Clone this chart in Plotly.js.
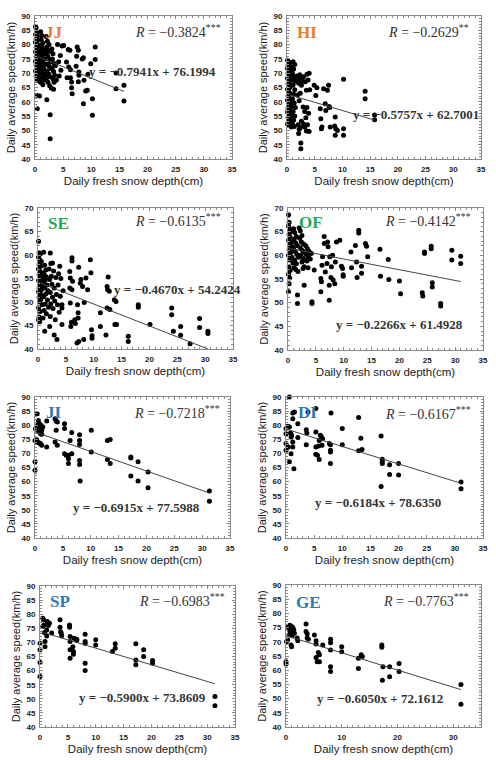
<!DOCTYPE html>
<html><head><meta charset="utf-8">
<script src="https://cdn.plot.ly/plotly-3.0.1.min.js"></script>
<style>html,body{margin:0;padding:0;background:#fff}</style>
</head><body><div id="chart" style="width:496px;height:760px"></div>
<script>
// ---------- data ----------
const regions = ["JJ","HI","SE","OF","JI","DI","SP","GE"];
const rValues = [-0.3824,-0.2629,-0.6135,-0.4142,-0.7218,-0.6167,-0.6983,-0.7763];
const rStars = ["***","**","***","***","***","***","***","***"];
const slopes = [-0.7941,-0.5757,-0.4670,-0.2266,-0.6915,-0.6184,-0.5900,-0.6050];
const intercepts = [76.1994,62.7001,54.2424,61.4928,77.5988,78.6350,73.8609,72.1612];
const xTitle = "Daily fresh snow depth(cm)";
const yTitle = "Daily average speed(km/h)";

const jjPoints = [[0.1,86.3],[0.2,85.8],[0.3,84.2],[0.1,83.5],[0.4,83.0],[0.2,82.0],[0.5,81.5],[0.1,80.8],[0.3,80.2],[0.6,79.6],[0.2,79.0],[0.4,78.4],[0.7,78.0],[0.1,77.5],[0.3,77.0],[0.5,76.5],[0.8,76.2],[0.2,75.8],[0.4,75.2],[0.6,74.8],[0.1,74.2],[0.3,73.6],[0.9,73.2],[0.2,72.8],[0.5,72.0],[0.7,71.4],[0.1,70.8],[0.4,70.2],[0.8,69.6],[0.2,69.0],[0.6,68.2],[0.3,67.5],[0.9,67.0],[0.3,62.3],[0.8,62.0],[0.4,57.6],
[1.0,84.5],[1.2,83.2],[1.1,81.8],[1.4,80.6],[1.0,79.8],[1.3,79.0],[1.6,78.2],[1.1,77.4],[1.5,76.6],[1.2,75.6],[1.7,75.0],[1.0,74.4],[1.4,73.8],[1.8,73.0],[1.2,72.2],[1.6,71.4],[1.1,70.6],[1.5,69.8],[1.9,69.2],[1.3,68.4],[1.7,67.6],[1.0,66.8],[1.4,66.0],
[2.0,82.8],[2.2,81.2],[2.5,80.0],[2.1,79.2],[2.4,78.0],[2.7,77.6],[2.0,76.8],[2.3,75.8],[2.6,74.6],[2.9,74.0],[2.2,73.2],[2.5,72.4],[2.8,71.6],[2.1,70.8],[2.4,69.8],[2.7,68.8],[2.0,67.8],[2.3,66.8],[2.6,65.6],[2.9,64.8],[2.1,60.7],[2.7,55.5],[2.7,47.1],
[3.0,78.5],[3.2,76.8],[3.1,75.0],[3.4,73.4],[3.0,71.8],[3.3,70.6],[3.5,69.3],[3.2,68.0],[3.4,66.8],[3.3,64.4],[3.6,72.6],[3.8,67.6],
[4.0,80.0],[4.5,76.2],[4.8,79.5],[5.1,79.7],[4.2,74.0],[4.6,71.0],[4.3,69.0],[5.6,73.9],[5.9,78.3],[6.2,78.0],[6.0,72.2],[6.3,71.2],[5.7,68.4],[6.3,68.4],[6.5,66.9],[6.5,64.9],[6.6,62.8],[7.5,79.2],[7.7,78.0],[7.4,75.9],[7.3,72.4],[7.8,70.4],[7.8,69.3],[7.7,67.0],[8.4,75.0],[8.6,75.4],[8.7,67.5],[8.6,59.3],[9.0,63.8],[9.3,64.0],[9.4,69.6],[9.9,73.3],[10.2,61.1],[10.2,55.3],[10.7,79.2],[10.7,74.8],[14.4,70.1],[14.4,64.6],[15.8,65.8],[15.8,60.3]];

const hiPoints = [[0.1,74.5],[0.3,74.0],[0.5,73.5],[0.2,72.8],[0.7,72.2],[0.1,71.6],[0.4,71.0],[0.9,70.5],[0.2,70.0],[0.6,69.4],[0.3,68.8],[0.1,68.2],[0.8,67.7],[0.4,67.0],[0.2,66.3],[1.0,65.8],[0.5,65.0],[0.1,64.4],[0.3,63.6],[0.7,62.8],[0.2,62.0],[0.4,61.2],[0.1,60.5],[0.6,59.8],[0.3,59.0],[0.8,58.4],[0.2,57.8],[0.5,57.0],[0.1,56.4],[0.4,55.8],[0.7,55.2],[0.2,54.6],[0.9,54.0],[0.3,53.4],[0.6,52.8],[0.1,52.2],[0.4,51.6],[0.8,51.2],
[1.1,74.0],[1.4,73.0],[1.2,71.5],[1.0,69.8],[1.3,68.6],[1.5,67.2],[1.1,66.0],[1.4,64.2],[1.2,62.6],[1.0,61.0],[1.3,59.6],[1.5,58.0],[1.1,56.6],[1.4,55.0],[1.2,53.6],[1.0,52.4],[1.3,51.4],
[1.8,69.0],[2.0,68.0],[2.3,69.5],[2.1,66.5],[2.5,68.4],[2.8,67.2],[2.6,65.8],[3.0,68.8],[3.3,67.0],[3.6,69.6],[4.0,70.0],[3.8,67.6],[4.1,64.2],[3.5,64.0],[2.4,63.0],[1.9,62.4],[2.2,60.4],[2.9,58.2],[3.2,56.6],[3.6,58.0],[3.9,56.0],[3.4,54.4],[2.6,53.2],[2.0,52.0],[2.4,51.0],[3.0,52.2],[3.7,52.0],[3.5,49.8],[2.1,48.9],[2.2,50.4],[2.5,45.6],[2.5,43.6],[3.2,51.2],[4.0,49.6],
[4.9,65.8],[5.4,64.9],[5.2,62.2],[6.0,57.6],[6.1,54.1],[6.3,51.2],[6.2,50.6],[6.6,64.6],[6.9,59.3],[7.0,57.0],[7.3,64.0],[7.5,65.8],[7.6,58.4],[7.7,58.0],[7.8,51.2],[8.7,54.7],[8.8,50.6],[8.7,48.3],[9.1,50.0],[8.6,51.5],[10.2,67.9],[10.2,50.6],[10.2,48.3],[14.1,63.7],[14.1,61.1],[15.8,55.4],[15.8,53.7]];

const sePoints = [[0.1,62.9],[0.2,60.5],[0.4,60.2],[0.1,59.5],[0.3,59.0],[0.6,58.6],[0.2,58.0],[0.5,57.6],[0.1,57.0],[0.3,56.6],[0.7,56.2],[0.2,55.8],[0.4,55.4],[0.8,55.0],[0.1,54.6],[0.5,54.2],[0.3,53.8],[0.9,53.4],[0.2,53.0],[0.6,52.6],[0.1,52.2],[0.4,51.8],[0.7,51.4],[0.2,51.0],[0.5,50.6],[0.3,50.0],[0.8,49.4],[0.1,48.8],[0.4,48.0],[0.2,46.8],[0.1,46.2],[0.3,45.8],
[1.0,60.6],[1.2,57.8],[1.4,56.8],[1.1,55.9],[1.5,55.3],[1.3,54.7],[1.0,54.1],[1.6,53.6],[1.2,53.0],[1.8,52.4],[1.4,51.7],[1.0,51.1],[1.7,50.4],[1.3,49.6],[1.9,48.9],[1.1,48.2],[1.5,47.5],[0.9,46.6],[1.2,43.8],
[2.2,60.4],[2.3,58.2],[2.6,58.3],[2.0,57.0],[2.4,55.5],[2.8,56.6],[2.1,54.8],[2.5,53.8],[2.9,53.0],[2.2,52.0],[2.6,51.0],[3.0,50.2],[2.3,49.6],[2.7,48.6],[2.2,46.9],[2.1,44.8],[2.9,43.0],[3.4,42.0],[3.1,46.2],[3.5,49.4],[3.3,51.6],[3.6,53.6],[3.2,55.2],[3.9,57.6],[3.7,56.0],[4.1,55.0],[4.3,45.2],[4.3,48.7],[4.3,49.4],[4.0,51.2],[4.5,52.4],[3.8,47.8],
[5.8,49.8],[5.9,44.8],[6.0,45.7],[6.1,58.7],[6.1,59.4],[5.7,56.5],[5.8,55.1],[5.7,53.0],[6.1,52.6],[6.2,54.4],[6.6,46.2],[6.7,45.4],[7.0,41.3],[7.3,41.6],[7.2,47.7],[7.2,46.6],[7.1,49.4],[7.3,57.4],[7.6,54.0],[7.7,54.8],[8.0,53.3],[8.2,42.0],[8.3,49.9],[8.6,55.1],[8.9,52.6],[9.4,59.0],[9.5,56.2],[9.6,44.1],[9.7,42.8],[9.7,42.3],[11.2,44.8],[11.2,47.7],[12.2,43.0],[12.4,48.7],[12.4,53.3],[12.5,52.6],[12.6,55.3],[12.8,52.3],[12.9,48.4],[13.7,50.5],[14.0,50.1],[13.8,45.2],[14.1,45.2],[16.2,42.7],[16.2,41.6],[18.0,49.4],[18.0,48.9],[20.1,45.2],[24.0,48.7],[24.0,47.3],[24.3,43.8],[25.6,44.8],[25.6,42.9],[27.3,41.1],[29.0,46.5],[29.0,44.6],[30.5,43.8],[30.5,43.3]];

const ofPoints = [[0.1,68.6],[0.2,67.0],[0.1,66.2],[0.3,65.6],[0.5,65.0],[0.2,64.4],[0.4,63.8],[0.1,63.2],[0.6,62.8],[0.3,62.2],[0.8,61.8],[0.2,61.2],[0.5,60.6],[0.1,60.0],[0.7,59.6],[0.3,59.0],[0.9,58.4],[0.2,57.6],[0.4,56.8],[0.1,56.0],[0.3,55.2],[0.2,54.0],[0.1,52.3],
[1.0,65.6],[1.2,64.8],[1.5,64.0],[1.1,63.4],[1.4,62.6],[1.7,62.0],[1.0,61.4],[1.3,60.8],[1.6,60.2],[1.9,59.6],[1.2,59.0],[1.5,58.2],[1.1,57.4],[1.8,56.6],[1.4,57.0],[1.7,51.6],[1.7,49.8],
[2.0,65.8],[2.2,65.2],[2.5,64.2],[2.1,63.6],[2.4,62.8],[2.8,62.4],[2.2,61.6],[2.6,61.0],[3.0,60.6],[2.3,60.0],[2.7,59.4],[3.1,59.0],[2.5,58.6],[2.9,57.6],[2.7,57.2],[2.9,53.7],[3.2,62.0],[3.5,61.4],[3.3,60.2],[3.7,59.6],[3.4,58.8],[3.8,60.8],[4.0,59.2],[4.2,60.4],[4.3,50.2],[4.3,49.8],[4.7,56.9],[3.6,57.4],
[5.9,52.3],[5.9,55.1],[6.0,54.4],[6.1,57.9],[6.2,59.7],[6.5,62.5],[6.5,64.0],[6.7,56.5],[7.0,58.3],[7.1,62.8],[7.2,61.8],[7.4,50.5],[7.4,53.7],[7.5,59.7],[7.7,55.3],[7.8,57.6],[8.0,60.0],[8.1,54.8],[8.4,54.0],[8.5,58.6],[8.7,62.8],[9.3,63.2],[9.6,57.7],[9.8,57.2],[9.9,55.9],[9.9,55.6],[11.4,57.4],[11.3,60.7],[12.1,62.1],[12.3,58.6],[12.4,55.3],[12.7,65.3],[12.7,64.7],[13.2,56.2],[13.2,57.7],[13.9,62.5],[14.1,61.9],[14.3,59.7],[16.5,61.3],[16.6,55.6],[18.0,59.1],[18.1,54.9],[20.0,54.6],[20.2,51.9],[24.1,52.1],[24.2,51.4],[24.5,60.7],[24.5,60.4],[25.7,61.9],[25.7,61.4],[25.9,54.2],[25.9,53.3],[27.4,49.8],[27.4,49.3],[29.4,61.1],[29.4,59.0],[31.0,59.8],[31.0,58.3]];

const jiPoints = [[0.0,74.6],[0.0,67.0],[0.0,64.0],[0.1,78.7],[0.2,78.9],[0.3,74.8],[0.4,74.0],[0.4,84.1],[0.5,80.2],[0.6,81.7],[0.6,77.8],[0.7,73.8],[0.8,80.5],[0.8,78.2],[0.9,73.5],[0.9,79.8],[1.0,77.0],[1.0,73.4],[1.1,80.0],[1.2,72.9],[1.2,78.2],[1.2,76.8],[1.4,79.4],[2.1,81.5],[2.1,72.3],[3.6,82.3],[3.8,81.5],[4.0,81.1],[3.8,78.2],[3.6,74.0],[4.0,72.9],[5.3,80.5],[5.3,78.8],[5.3,69.9],[5.6,69.3],[6.0,69.3],[6.0,68.1],[6.0,66.4],[6.3,74.6],[6.6,77.4],[6.6,69.9],[8.0,76.6],[8.0,74.6],[8.0,73.2],[8.0,67.5],[8.0,66.1],[8.1,60.2],[10.1,78.2],[10.1,70.5],[13.0,74.6],[13.5,74.9],[13.0,67.8],[13.5,66.4],[17.2,68.7],[17.2,68.4],[17.2,62.0],[18.5,67.0],[18.5,60.2],[20.3,63.4],[20.3,57.8],[31.3,56.7],[31.3,53.0]];

const diPoints = [[0.6,90.0],[0.0,78.8],[0.0,77.0],[0.0,73.5],[0.0,71.1],[0.4,72.3],[0.6,67.0],[0.3,79.6],[0.6,79.4],[0.8,77.2],[0.9,75.8],[1.0,76.4],[0.9,69.9],[1.2,74.0],[1.2,72.3],[1.4,64.6],[1.2,82.3],[1.2,84.3],[1.5,84.7],[2.1,80.5],[2.1,75.6],[3.6,78.4],[3.7,77.2],[3.6,73.1],[3.9,84.7],[5.3,85.9],[5.3,77.6],[5.3,72.3],[5.3,69.7],[5.6,69.3],[5.8,72.6],[5.9,67.8],[5.9,74.6],[6.1,76.4],[6.3,75.8],[6.4,72.9],[6.5,75.2],[7.7,73.5],[7.9,73.1],[7.9,71.1],[7.9,70.5],[7.9,66.4],[8.0,84.3],[10.0,78.8],[10.0,73.1],[12.9,82.7],[12.9,70.9],[13.3,75.4],[13.5,71.4],[16.9,76.2],[16.9,58.3],[17.1,67.9],[17.1,67.0],[17.1,66.4],[18.4,66.0],[18.4,62.5],[20.0,66.4],[20.0,62.3],[31.1,59.9],[31.1,57.5]];

const spPoints = [[0.0,57.9],[0.0,62.9],[0.0,67.4],[0.0,69.7],[0.5,78.6],[0.6,78.0],[0.7,76.2],[0.5,75.6],[0.8,73.5],[0.9,70.3],[0.9,68.5],[1.2,72.3],[1.2,74.4],[1.3,77.4],[1.5,76.0],[1.7,76.8],[2.1,73.3],[3.6,78.0],[3.6,75.4],[3.7,73.8],[3.8,73.3],[3.9,72.4],[5.3,76.2],[5.3,75.4],[5.4,72.1],[5.4,70.3],[5.4,67.4],[5.4,64.4],[5.9,68.5],[6.0,66.8],[6.0,65.8],[6.1,71.5],[6.6,71.1],[6.6,70.7],[8.1,72.9],[8.1,70.3],[8.1,69.7],[8.1,62.6],[8.1,60.0],[10.0,70.9],[10.0,69.1],[13.0,66.8],[13.5,69.5],[13.5,67.9],[17.2,69.5],[17.2,63.8],[17.2,62.1],[18.6,67.4],[18.6,65.0],[20.2,63.6],[20.2,62.6],[31.4,50.8],[31.4,47.5]];

const gePoints = [[0.0,63.0],[0.0,62.2],[0.1,70.1],[0.3,70.7],[0.4,75.1],[0.6,74.2],[0.8,73.0],[0.9,68.9],[1.0,68.3],[1.1,72.1],[1.2,75.1],[1.4,74.2],[1.5,73.0],[0.5,75.6],[0.7,75.8],[1.0,75.4],[1.2,73.8],[0.6,72.6],[2.0,71.3],[2.1,70.4],[3.6,76.3],[3.6,73.6],[3.8,72.8],[3.8,71.3],[4.0,70.9],[5.1,72.4],[5.4,70.4],[5.4,69.2],[5.4,64.5],[5.6,63.0],[5.8,66.2],[6.0,65.4],[6.0,63.0],[6.6,68.9],[8.0,70.9],[8.0,69.7],[8.0,67.1],[8.0,61.2],[8.0,59.5],[10.0,68.3],[10.0,66.5],[13.0,64.2],[13.0,60.6],[13.5,65.4],[13.7,64.8],[17.2,68.9],[17.2,68.1],[17.4,61.2],[17.3,56.5],[18.6,61.2],[18.6,57.7],[20.3,62.4],[20.3,59.5],[31.4,55.0],[31.4,48.0]];

const allPoints = [jjPoints,hiPoints,sePoints,ofPoints,jiPoints,diPoints,spPoints,gePoints];
const yRanges = [[40,90],[40,90],[40,70],[40,70],[40,90],[40,90],[40,90],[40,90]];
const xTickSteps = [5,5,5,5,5,5,5,10];

// ---------- layout / style ----------
const W = 496, H = 760;
const boxes = [[35,16,232,159],[287,16,481,159],[38,208,233,349],[288,208,483,350],[35,397,230,538],[286,397,483,538],[40,586,235,727],[286,585,481,727]];
const labelColors = ["#E57B34","#E57B34","#22A85A","#22A85A","#2E78B8","#2E78B8","#2E78B8","#2E78B8"];
const labelPos = [[43,33],[295,33],[46,223],[297,222],[44,412],[296,412],[48,601],[294,602]];
const rPos = [[223,31],[471,31],[223,220],[473,220],[222,412],[473,413],[227,600],[471,600]];
const eqPos = [[87,72],[351,115],[112,289],[334,324],[71,507],[313,502],[77,697],[315,698]];

const serif = "Liberation Serif, DejaVu Serif, serif";
const sans = "Liberation Sans, Arial, sans-serif";

const traces = [];
const layout = {
  width: W, height: H, margin: {l:0,r:0,t:0,b:0},
  paper_bgcolor: "#fff", plot_bgcolor: "#fff", showlegend: false,
  annotations: []
};
const fmt = v => (v < 0 ? "\u2212" : "") + Math.abs(v).toFixed(4);

for (let i = 0; i < 8; i++) {
  const s = i === 0 ? "" : String(i + 1);
  const [l, t, r, b] = boxes[i];
  const pts = allPoints[i];
  const xs = pts.map(p => p[0]), ys = pts.map(p => p[1]);
  const xmax = Math.max(...xs), xmin = Math.min(...xs);
  traces.push({
    type: "scatter", mode: "markers", x: xs, y: ys, xaxis: "x" + s, yaxis: "y" + s,
    marker: {color: "#000", size: 5}, cliponaxis: false, hoverinfo: "skip"
  });
  traces.push({
    type: "scatter", mode: "lines", x: [xmin, xmax],
    y: [slopes[i] * xmin + intercepts[i], slopes[i] * xmax + intercepts[i]],
    xaxis: "x" + s, yaxis: "y" + s, line: {color: "#444", width: 1}, hoverinfo: "skip"
  });
  const common = {
    showline: true, linecolor: "#8a8a8a", linewidth: 1, mirror: "ticks",
    ticks: "inside", ticklen: 3, tickcolor: "#8a8a8a", tickwidth: 1,
    showgrid: false, zeroline: false, fixedrange: true,
    tickfont: {family: sans, size: 8, color: "#222", weight: "bold"},
    ticklabelstandoff: 2
  };
  layout["xaxis" + s] = Object.assign({}, common, {
    domain: [l / W, r / W], anchor: "y" + s, range: [0, 35],
    tick0: 0, dtick: xTickSteps[i],
    minor: {ticks: "inside", ticklen: 2, dtick: 1, tickcolor: "#8a8a8a"},
    title: {text: xTitle, font: {family: sans, size: 11.5, color: "#1a1a1a"}, standoff: 4}
  });
  layout["yaxis" + s] = Object.assign({}, common, {
    domain: [1 - b / H, 1 - t / H], anchor: "x" + s, range: yRanges[i],
    tick0: 40, dtick: 5,
    minor: {ticks: "inside", ticklen: 2, dtick: 1, tickcolor: "#8a8a8a"},
    title: {text: yTitle, font: {family: sans, size: 11, color: "#1a1a1a"}, standoff: 3}
  });
  layout.annotations.push({
    xref: "paper", yref: "paper", x: labelPos[i][0] / W, y: 1 - labelPos[i][1] / H,
    xanchor: "left", yanchor: "middle", showarrow: false, text: "<b>" + regions[i] + "</b>",
    font: {family: serif, size: 17, color: labelColors[i]}
  });
  layout.annotations.push({
    xref: "paper", yref: "paper", x: rPos[i][0] / W, y: 1 - rPos[i][1] / H,
    xanchor: "right", yanchor: "middle", showarrow: false,
    text: "<i>R</i> = " + fmt(rValues[i]) + "<sup>" + rStars[i] + "</sup>",
    font: {family: serif, size: 14, color: "#333"}
  });
  layout.annotations.push({
    xref: "paper", yref: "paper", x: eqPos[i][0] / W, y: 1 - eqPos[i][1] / H,
    xanchor: "left", yanchor: "middle", showarrow: false,
    text: "<b>y = " + fmt(slopes[i]) + "x + " + intercepts[i].toFixed(4) + "</b>",
    font: {family: serif, size: 13, color: "#333"}
  });
}
Plotly.newPlot("chart", traces, layout, {staticPlot: true});
</script></body></html>
